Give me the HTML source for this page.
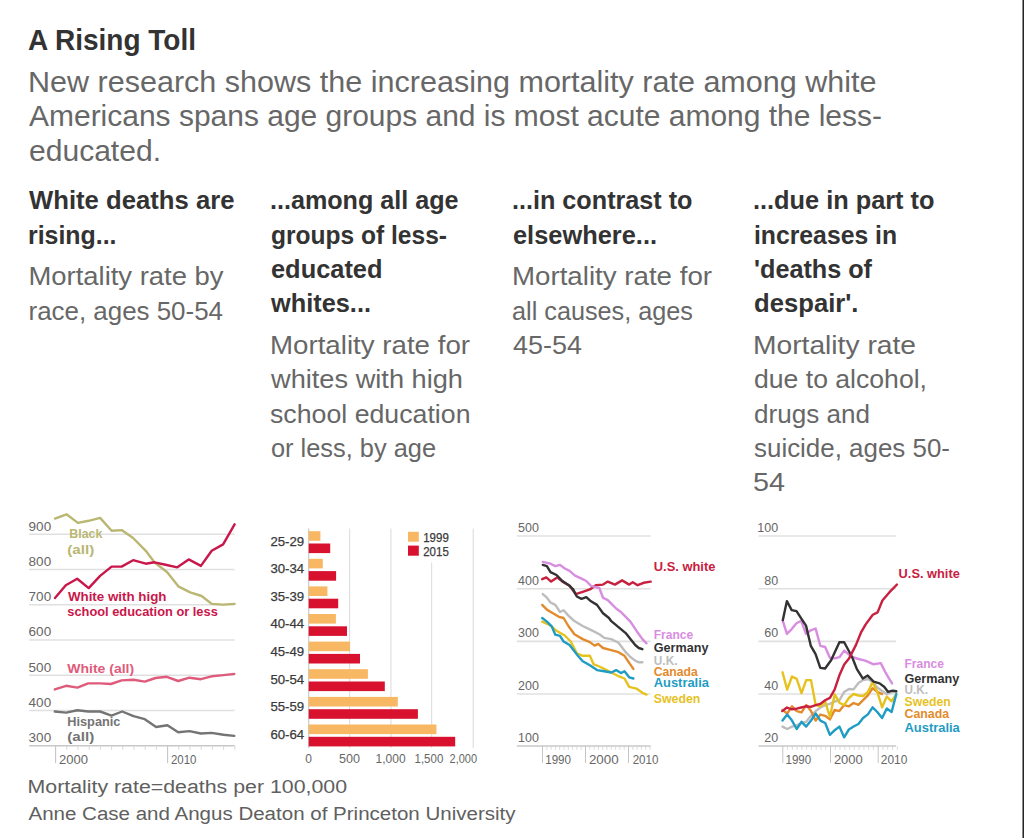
<!DOCTYPE html>
<html><head><meta charset="utf-8"><title>A Rising Toll</title>
<style>
html,body{margin:0;padding:0;background:#fff;width:1024px;height:838px;overflow:hidden}
svg{display:block;font-family:"Liberation Sans", sans-serif}
</style></head><body>
<svg width="1024" height="838" viewBox="0 0 1024 838">
<rect x="0" y="0" width="1024" height="838" fill="#fff"/>
<text x="28.0" y="49.8" font-size="29.3" fill="#333333" font-weight="bold" textLength="168.0" lengthAdjust="spacingAndGlyphs">A Rising Toll</text>
<text x="28.0" y="91.7" font-size="30" fill="#676767" textLength="848.5" lengthAdjust="spacingAndGlyphs">New research shows the increasing mortality rate among white</text>
<text x="29.0" y="126.0" font-size="30" fill="#676767" textLength="853.0" lengthAdjust="spacingAndGlyphs">Americans spans age groups and is most acute among the less-</text>
<text x="29.0" y="160.5" font-size="30" fill="#676767" textLength="132.0" lengthAdjust="spacingAndGlyphs">educated.</text>
<text x="29.0" y="209.2" font-size="26.5" fill="#333333" font-weight="bold" textLength="205.5" lengthAdjust="spacingAndGlyphs">White deaths are</text>
<text x="28.0" y="243.5" font-size="26.5" fill="#333333" font-weight="bold" textLength="88.5" lengthAdjust="spacingAndGlyphs">rising...</text>
<text x="28.5" y="285.3" font-size="26" fill="#676767" textLength="195.0" lengthAdjust="spacingAndGlyphs">Mortality rate by</text>
<text x="28.5" y="319.6" font-size="26" fill="#676767" textLength="194.5" lengthAdjust="spacingAndGlyphs">race, ages 50-54</text>
<text x="270.0" y="209.2" font-size="26.5" fill="#333333" font-weight="bold" textLength="188.5" lengthAdjust="spacingAndGlyphs">...among all age</text>
<text x="271.0" y="243.5" font-size="26.5" fill="#333333" font-weight="bold" textLength="176.0" lengthAdjust="spacingAndGlyphs">groups of less-</text>
<text x="271.0" y="277.8" font-size="26.5" fill="#333333" font-weight="bold" textLength="111.5" lengthAdjust="spacingAndGlyphs">educated</text>
<text x="271.0" y="312.1" font-size="26.5" fill="#333333" font-weight="bold" textLength="100.0" lengthAdjust="spacingAndGlyphs">whites...</text>
<text x="270.0" y="354.1" font-size="26" fill="#676767" textLength="200.0" lengthAdjust="spacingAndGlyphs">Mortality rate for</text>
<text x="271.0" y="388.4" font-size="26" fill="#676767" textLength="192.0" lengthAdjust="spacingAndGlyphs">whites with high</text>
<text x="270.0" y="422.7" font-size="26" fill="#676767" textLength="200.5" lengthAdjust="spacingAndGlyphs">school education</text>
<text x="271.0" y="457.0" font-size="26" fill="#676767" textLength="165.0" lengthAdjust="spacingAndGlyphs">or less, by age</text>
<text x="512.0" y="209.2" font-size="26.5" fill="#333333" font-weight="bold" textLength="180.5" lengthAdjust="spacingAndGlyphs">...in contrast to</text>
<text x="513.0" y="243.5" font-size="26.5" fill="#333333" font-weight="bold" textLength="144.0" lengthAdjust="spacingAndGlyphs">elsewhere...</text>
<text x="512.0" y="285.4" font-size="26" fill="#676767" textLength="200.0" lengthAdjust="spacingAndGlyphs">Mortality rate for</text>
<text x="512.0" y="319.7" font-size="26" fill="#676767" textLength="181.0" lengthAdjust="spacingAndGlyphs">all causes, ages</text>
<text x="513.0" y="354.0" font-size="26" fill="#676767" textLength="69.0" lengthAdjust="spacingAndGlyphs">45-54</text>
<text x="753.0" y="209.2" font-size="26.5" fill="#333333" font-weight="bold" textLength="181.5" lengthAdjust="spacingAndGlyphs">...due in part to</text>
<text x="754.0" y="243.5" font-size="26.5" fill="#333333" font-weight="bold" textLength="143.0" lengthAdjust="spacingAndGlyphs">increases in</text>
<text x="754.0" y="277.8" font-size="26.5" fill="#333333" font-weight="bold" textLength="118.0" lengthAdjust="spacingAndGlyphs">'deaths of</text>
<text x="754.0" y="312.1" font-size="26.5" fill="#333333" font-weight="bold" textLength="104.5" lengthAdjust="spacingAndGlyphs">despair'.</text>
<text x="753.0" y="354.1" font-size="26" fill="#676767" textLength="163.0" lengthAdjust="spacingAndGlyphs">Mortality rate</text>
<text x="754.0" y="388.4" font-size="26" fill="#676767" textLength="173.0" lengthAdjust="spacingAndGlyphs">due to alcohol,</text>
<text x="754.0" y="422.7" font-size="26" fill="#676767" textLength="116.0" lengthAdjust="spacingAndGlyphs">drugs and</text>
<text x="754.0" y="457.0" font-size="26" fill="#676767" textLength="196.0" lengthAdjust="spacingAndGlyphs">suicide, ages 50-</text>
<text x="753.0" y="491.3" font-size="26" fill="#676767" textLength="32.0" lengthAdjust="spacingAndGlyphs">54</text>
<text x="27.5" y="792.9" font-size="18" fill="#606060" textLength="319.5" lengthAdjust="spacingAndGlyphs">Mortality rate=deaths per 100,000</text>
<text x="28.5" y="820.1" font-size="18" fill="#606060" textLength="487.0" lengthAdjust="spacingAndGlyphs">Anne Case and Angus Deaton of Princeton University</text>
<line x1="29.2" y1="534.3" x2="234.5" y2="534.3" stroke="#e0e0e0" stroke-width="1.6"/>
<text x="28.6" y="530.7" font-size="13" fill="#666666" textLength="22.6" lengthAdjust="spacingAndGlyphs">900</text>
<line x1="29.2" y1="569.5" x2="234.5" y2="569.5" stroke="#e0e0e0" stroke-width="1.6"/>
<text x="28.6" y="565.9" font-size="13" fill="#666666" textLength="22.6" lengthAdjust="spacingAndGlyphs">800</text>
<line x1="29.2" y1="604.8" x2="234.5" y2="604.8" stroke="#e0e0e0" stroke-width="1.6"/>
<text x="28.6" y="601.2" font-size="13" fill="#666666" textLength="22.6" lengthAdjust="spacingAndGlyphs">700</text>
<line x1="29.2" y1="640.0" x2="234.5" y2="640.0" stroke="#e0e0e0" stroke-width="1.6"/>
<text x="28.6" y="636.4" font-size="13" fill="#666666" textLength="22.6" lengthAdjust="spacingAndGlyphs">600</text>
<line x1="29.2" y1="675.3" x2="234.5" y2="675.3" stroke="#e0e0e0" stroke-width="1.6"/>
<text x="28.6" y="671.7" font-size="13" fill="#666666" textLength="22.6" lengthAdjust="spacingAndGlyphs">500</text>
<line x1="29.2" y1="710.5" x2="234.5" y2="710.5" stroke="#e0e0e0" stroke-width="1.6"/>
<text x="28.6" y="706.9" font-size="13" fill="#666666" textLength="22.6" lengthAdjust="spacingAndGlyphs">400</text>
<text x="28.6" y="742.2" font-size="13" fill="#666666" textLength="22.6" lengthAdjust="spacingAndGlyphs">300</text>
<line x1="29.2" y1="745.8" x2="234.5" y2="745.8" stroke="#c8c8c8" stroke-width="1.6"/>
<line x1="55.6" y1="745.3" x2="55.6" y2="763" stroke="#c6c6c6" stroke-width="1.1"/>
<line x1="66.8" y1="745.3" x2="66.8" y2="749.8" stroke="#d2d2d2" stroke-width="0.9"/>
<line x1="78.0" y1="745.3" x2="78.0" y2="749.8" stroke="#d2d2d2" stroke-width="0.9"/>
<line x1="89.2" y1="745.3" x2="89.2" y2="749.8" stroke="#d2d2d2" stroke-width="0.9"/>
<line x1="100.4" y1="745.3" x2="100.4" y2="749.8" stroke="#d2d2d2" stroke-width="0.9"/>
<line x1="111.6" y1="745.3" x2="111.6" y2="749.8" stroke="#d2d2d2" stroke-width="0.9"/>
<line x1="122.8" y1="745.3" x2="122.8" y2="749.8" stroke="#d2d2d2" stroke-width="0.9"/>
<line x1="134.0" y1="745.3" x2="134.0" y2="749.8" stroke="#d2d2d2" stroke-width="0.9"/>
<line x1="145.2" y1="745.3" x2="145.2" y2="749.8" stroke="#d2d2d2" stroke-width="0.9"/>
<line x1="156.4" y1="745.3" x2="156.4" y2="749.8" stroke="#d2d2d2" stroke-width="0.9"/>
<line x1="167.6" y1="745.3" x2="167.6" y2="763" stroke="#c6c6c6" stroke-width="1.1"/>
<line x1="178.8" y1="745.3" x2="178.8" y2="749.8" stroke="#d2d2d2" stroke-width="0.9"/>
<line x1="190.0" y1="745.3" x2="190.0" y2="749.8" stroke="#d2d2d2" stroke-width="0.9"/>
<line x1="201.2" y1="745.3" x2="201.2" y2="749.8" stroke="#d2d2d2" stroke-width="0.9"/>
<line x1="212.4" y1="745.3" x2="212.4" y2="749.8" stroke="#d2d2d2" stroke-width="0.9"/>
<line x1="223.6" y1="745.3" x2="223.6" y2="749.8" stroke="#d2d2d2" stroke-width="0.9"/>
<line x1="234.8" y1="745.3" x2="234.8" y2="749.8" stroke="#d2d2d2" stroke-width="0.9"/>
<text x="59" y="763.6" font-size="12" fill="#666666" textLength="29" lengthAdjust="spacingAndGlyphs">2000</text>
<text x="171" y="763.6" font-size="12" fill="#666666" textLength="25.5" lengthAdjust="spacingAndGlyphs">2010</text>
<polyline points="55,518.6 66.5,514.3 77.9,522.9 88.7,520.8 100.1,517.9 111.6,530.8 121.6,530.1 133.1,538 145.8,550.8 154.4,562.3 167.2,572.3 178.7,586.7 190.2,592.4 201.6,596 211.7,603.9 223.1,604.6 234.6,603.9" fill="none" stroke="#b9b772" stroke-width="2.4" stroke-linejoin="round" stroke-linecap="round"/>
<polyline points="55,598.1 65.8,585.2 77.2,578.8 88.7,588.1 100.1,575.9 111.6,566.6 121.6,566.6 133.1,560.2 145.8,563.7 154.4,562.3 164.4,564.5 177.3,567.3 188.7,559.4 200.9,565.9 211.7,550.8 223.1,544.4 234.6,524.3" fill="none" stroke="#c9174b" stroke-width="2.4" stroke-linejoin="round" stroke-linecap="round"/>
<polyline points="54.8,689.4 66.1,685.8 77.4,687.6 88.2,683.4 100.1,683.4 110.9,684 121.6,680.4 133.5,679.8 144.8,681.6 155.5,678 166.8,676.8 178.2,681 189.5,677.7 200.9,679.2 211.6,676.3 223.5,675.1 234.3,673.9" fill="none" stroke="#df5b7b" stroke-width="2.4" stroke-linejoin="round" stroke-linecap="round"/>
<polyline points="54.8,711.5 66.1,712.6 77.4,710.3 88.2,711.5 100.1,711.5 111.5,715.6 122.2,711.5 133.5,716.2 144.8,719.2 156.1,727 167.4,725.2 178.2,732.3 189.5,731.1 200.9,733.5 211.6,732.9 223.5,734.7 234.3,735.9" fill="none" stroke="#747474" stroke-width="2.4" stroke-linejoin="round" stroke-linecap="round"/>
<text x="69.3" y="538" font-size="12.5" fill="#b9b772" font-weight="bold" textLength="33" lengthAdjust="spacingAndGlyphs">Black</text>
<text x="67.3" y="553.7" font-size="12.5" fill="#b9b772" font-weight="bold" textLength="27" lengthAdjust="spacingAndGlyphs">(all)</text>
<text x="67.9" y="601" font-size="12.5" fill="#c9174b" font-weight="bold" textLength="98.6" lengthAdjust="spacingAndGlyphs">White with high</text>
<text x="67.3" y="616" font-size="12.5" fill="#c9174b" font-weight="bold" textLength="150.5" lengthAdjust="spacingAndGlyphs">school education or less</text>
<text x="67.3" y="672.7" font-size="12.5" fill="#df5b7b" font-weight="bold" textLength="66.8" lengthAdjust="spacingAndGlyphs">White (all)</text>
<text x="67.3" y="725.8" font-size="12.5" fill="#747474" font-weight="bold" textLength="53.1" lengthAdjust="spacingAndGlyphs">Hispanic</text>
<text x="67.3" y="741.3" font-size="12.5" fill="#747474" font-weight="bold" textLength="27" lengthAdjust="spacingAndGlyphs">(all)</text>
<line x1="349.6" y1="528.5" x2="349.6" y2="748" stroke="#e0e0e0" stroke-width="1.2"/>
<line x1="390.9" y1="528.5" x2="390.9" y2="748" stroke="#e0e0e0" stroke-width="1.2"/>
<line x1="431.6" y1="562.7" x2="431.6" y2="748" stroke="#e0e0e0" stroke-width="1.2"/>
<line x1="473.2" y1="528.5" x2="473.2" y2="748" stroke="#e0e0e0" stroke-width="1.2"/>
<line x1="308.7" y1="528.5" x2="308.7" y2="748" stroke="#c8c8c8" stroke-width="1.2"/>
<rect x="308.7" y="531.2" width="11.7" height="9.6" fill="#f8b763"/>
<rect x="308.7" y="543.5" width="21.5" height="9.6" fill="#d8112f"/>
<text x="304.2" y="545.6" font-size="13" fill="#3a3a3a" textLength="33.8" lengthAdjust="spacingAndGlyphs" text-anchor="end" stroke="#3a3a3a" stroke-width="0.25">25-29</text>
<rect x="308.7" y="558.8" width="14.1" height="9.6" fill="#f8b763"/>
<rect x="308.7" y="571.1" width="27.4" height="9.6" fill="#d8112f"/>
<text x="304.2" y="573.2" font-size="13" fill="#3a3a3a" textLength="33.8" lengthAdjust="spacingAndGlyphs" text-anchor="end" stroke="#3a3a3a" stroke-width="0.25">30-34</text>
<rect x="308.7" y="586.4" width="18.7" height="9.6" fill="#f8b763"/>
<rect x="308.7" y="598.7" width="29.5" height="9.6" fill="#d8112f"/>
<text x="304.2" y="600.8" font-size="13" fill="#3a3a3a" textLength="33.8" lengthAdjust="spacingAndGlyphs" text-anchor="end" stroke="#3a3a3a" stroke-width="0.25">35-39</text>
<rect x="308.7" y="614.0" width="27.2" height="9.6" fill="#f8b763"/>
<rect x="308.7" y="626.3" width="38.3" height="9.6" fill="#d8112f"/>
<text x="304.2" y="628.4" font-size="13" fill="#3a3a3a" textLength="33.8" lengthAdjust="spacingAndGlyphs" text-anchor="end" stroke="#3a3a3a" stroke-width="0.25">40-44</text>
<rect x="308.7" y="641.6" width="41.3" height="9.6" fill="#f8b763"/>
<rect x="308.7" y="653.9" width="51.3" height="9.6" fill="#d8112f"/>
<text x="304.2" y="656.0" font-size="13" fill="#3a3a3a" textLength="33.8" lengthAdjust="spacingAndGlyphs" text-anchor="end" stroke="#3a3a3a" stroke-width="0.25">45-49</text>
<rect x="308.7" y="669.2" width="59.2" height="9.6" fill="#f8b763"/>
<rect x="308.7" y="681.5" width="76.1" height="9.6" fill="#d8112f"/>
<text x="304.2" y="683.6" font-size="13" fill="#3a3a3a" textLength="33.8" lengthAdjust="spacingAndGlyphs" text-anchor="end" stroke="#3a3a3a" stroke-width="0.25">50-54</text>
<rect x="308.7" y="696.9" width="89.1" height="9.6" fill="#f8b763"/>
<rect x="308.7" y="709.2" width="109.2" height="9.6" fill="#d8112f"/>
<text x="304.2" y="711.3" font-size="13" fill="#3a3a3a" textLength="33.8" lengthAdjust="spacingAndGlyphs" text-anchor="end" stroke="#3a3a3a" stroke-width="0.25">55-59</text>
<rect x="308.7" y="724.5" width="127.7" height="9.6" fill="#f8b763"/>
<rect x="308.7" y="736.8" width="146.5" height="9.6" fill="#d8112f"/>
<text x="304.2" y="738.9" font-size="13" fill="#3a3a3a" textLength="33.8" lengthAdjust="spacingAndGlyphs" text-anchor="end" stroke="#3a3a3a" stroke-width="0.25">60-64</text>
<rect x="408" y="531.8" width="10.8" height="9.9" fill="#f8b763"/>
<rect x="408" y="545.6" width="10.8" height="10.1" fill="#d8112f"/>
<text x="423.2" y="541.7" font-size="12.5" fill="#3a3a3a" textLength="25.6" lengthAdjust="spacingAndGlyphs" stroke="#3a3a3a" stroke-width="0.25">1999</text>
<text x="423.2" y="555.7" font-size="12.5" fill="#3a3a3a" textLength="25.6" lengthAdjust="spacingAndGlyphs" stroke="#3a3a3a" stroke-width="0.25">2015</text>
<text x="308.6" y="763.4" font-size="12" fill="#666666" text-anchor="middle">0</text>
<text x="349.4" y="763.4" font-size="12" fill="#666666" textLength="21" lengthAdjust="spacingAndGlyphs" text-anchor="middle">500</text>
<text x="375.6" y="763.4" font-size="12" fill="#666666" textLength="30.1" lengthAdjust="spacingAndGlyphs">1,000</text>
<text x="414.5" y="763.4" font-size="12" fill="#666666" textLength="28.8" lengthAdjust="spacingAndGlyphs">1,500</text>
<text x="449.6" y="763.4" font-size="12" fill="#666666" textLength="27.5" lengthAdjust="spacingAndGlyphs">2,000</text>
<line x1="516.8" y1="536.0" x2="650.5" y2="536.0" stroke="#e0e0e0" stroke-width="1.6"/>
<text x="538.9" y="531.9" font-size="12.5" fill="#666666" text-anchor="end">500</text>
<line x1="516.8" y1="588.7" x2="650.5" y2="588.7" stroke="#e0e0e0" stroke-width="1.6"/>
<text x="538.9" y="584.6" font-size="12.5" fill="#666666" text-anchor="end">400</text>
<line x1="516.8" y1="641.4" x2="650.5" y2="641.4" stroke="#e0e0e0" stroke-width="1.6"/>
<text x="538.9" y="637.3" font-size="12.5" fill="#666666" text-anchor="end">300</text>
<line x1="516.8" y1="694.0" x2="650.5" y2="694.0" stroke="#e0e0e0" stroke-width="1.6"/>
<text x="538.9" y="689.9" font-size="12.5" fill="#666666" text-anchor="end">200</text>
<line x1="516.8" y1="746.0" x2="650.5" y2="746.0" stroke="#c8c8c8" stroke-width="1.6"/>
<text x="538.9" y="741.9" font-size="12.5" fill="#666666" text-anchor="end">100</text>
<line x1="542.5" y1="746.0" x2="542.5" y2="763" stroke="#c6c6c6" stroke-width="1.0"/>
<line x1="546.8" y1="746.0" x2="546.8" y2="749.8" stroke="#d2d2d2" stroke-width="0.8"/>
<line x1="551.1" y1="746.0" x2="551.1" y2="749.8" stroke="#d2d2d2" stroke-width="0.8"/>
<line x1="555.4" y1="746.0" x2="555.4" y2="749.8" stroke="#d2d2d2" stroke-width="0.8"/>
<line x1="559.7" y1="746.0" x2="559.7" y2="749.8" stroke="#d2d2d2" stroke-width="0.8"/>
<line x1="564.0" y1="746.0" x2="564.0" y2="749.8" stroke="#d2d2d2" stroke-width="0.8"/>
<line x1="568.3" y1="746.0" x2="568.3" y2="749.8" stroke="#d2d2d2" stroke-width="0.8"/>
<line x1="572.6" y1="746.0" x2="572.6" y2="749.8" stroke="#d2d2d2" stroke-width="0.8"/>
<line x1="576.9" y1="746.0" x2="576.9" y2="749.8" stroke="#d2d2d2" stroke-width="0.8"/>
<line x1="581.2" y1="746.0" x2="581.2" y2="749.8" stroke="#d2d2d2" stroke-width="0.8"/>
<line x1="585.5" y1="746.0" x2="585.5" y2="763" stroke="#c6c6c6" stroke-width="1.0"/>
<line x1="589.8" y1="746.0" x2="589.8" y2="749.8" stroke="#d2d2d2" stroke-width="0.8"/>
<line x1="594.1" y1="746.0" x2="594.1" y2="749.8" stroke="#d2d2d2" stroke-width="0.8"/>
<line x1="598.4" y1="746.0" x2="598.4" y2="749.8" stroke="#d2d2d2" stroke-width="0.8"/>
<line x1="602.7" y1="746.0" x2="602.7" y2="749.8" stroke="#d2d2d2" stroke-width="0.8"/>
<line x1="607.0" y1="746.0" x2="607.0" y2="749.8" stroke="#d2d2d2" stroke-width="0.8"/>
<line x1="611.3" y1="746.0" x2="611.3" y2="749.8" stroke="#d2d2d2" stroke-width="0.8"/>
<line x1="615.6" y1="746.0" x2="615.6" y2="749.8" stroke="#d2d2d2" stroke-width="0.8"/>
<line x1="619.9" y1="746.0" x2="619.9" y2="749.8" stroke="#d2d2d2" stroke-width="0.8"/>
<line x1="624.2" y1="746.0" x2="624.2" y2="749.8" stroke="#d2d2d2" stroke-width="0.8"/>
<line x1="628.5" y1="746.0" x2="628.5" y2="763" stroke="#c6c6c6" stroke-width="1.0"/>
<line x1="632.8" y1="746.0" x2="632.8" y2="749.8" stroke="#d2d2d2" stroke-width="0.8"/>
<line x1="637.1" y1="746.0" x2="637.1" y2="749.8" stroke="#d2d2d2" stroke-width="0.8"/>
<line x1="641.4" y1="746.0" x2="641.4" y2="749.8" stroke="#d2d2d2" stroke-width="0.8"/>
<line x1="645.7" y1="746.0" x2="645.7" y2="749.8" stroke="#d2d2d2" stroke-width="0.8"/>
<line x1="650.0" y1="746.0" x2="650.0" y2="749.8" stroke="#d2d2d2" stroke-width="0.8"/>
<text x="545.2" y="763.6" font-size="12" fill="#666666" textLength="25.8" lengthAdjust="spacingAndGlyphs">1990</text>
<text x="588.9" y="763.6" font-size="12" fill="#666666" textLength="29.7" lengthAdjust="spacingAndGlyphs">2000</text>
<text x="632.7" y="763.6" font-size="12" fill="#666666" textLength="25.7" lengthAdjust="spacingAndGlyphs">2010</text>
<polyline points="542.2,579.2 546.3,577.4 551.1,581.6 557.1,577.4 562.4,581.6 569.6,585.8 575.6,594.1 582.7,591.8 589.9,589.4 595.8,585.2 603,584.6 607.8,581.6 614.9,584.6 622.1,580.4 629.2,584.6 632.8,582.2 637.6,585.2 643.6,582.8 650.7,581.6" fill="none" stroke="#c8203f" stroke-width="2.4" stroke-linejoin="round" stroke-linecap="round"/>
<polyline points="542.8,594.1 546.9,597.7 550.5,602.5 555.3,604.9 560,612 563.6,610.2 568.4,615.6 573.2,620.2 582.7,626 592.3,630.7 599.4,634.3 604.2,637.9 611.3,639.1 618.5,642.7 622.1,647.4 625.7,652.2 630.4,657 635.2,660.6 638.8,662.3 642.4,662.3" fill="none" stroke="#bdbdbd" stroke-width="2.4" stroke-linejoin="round" stroke-linecap="round"/>
<polyline points="542.2,604.9 546.9,609.6 552.9,613.2 558.9,616.8 563.6,618 568.4,626 574.4,634.3 582.7,639.1 589.9,642.1 594.6,645.6 598.2,643.9 603,648 610.2,649.8 618.5,652.2 624.5,655.8 629.2,662.9 633.4,668.9" fill="none" stroke="#e38b2c" stroke-width="2.4" stroke-linejoin="round" stroke-linecap="round"/>
<polyline points="542.2,621.7 549.3,624.8 556.5,630.7 564.8,635.5 570.8,641.5 576.8,653.4 582.7,655.8 589.9,655.8 593.5,664.1 599.4,666.5 606.6,670.1 613.7,673.7 619.7,676.7 624.5,678.5 629.2,686.8 636.4,688.6 642.4,692.8 646.5,694.6" fill="none" stroke="#e6c21f" stroke-width="2.4" stroke-linejoin="round" stroke-linecap="round"/>
<polyline points="542.2,618 546.9,621.6 551.7,626.3 555.3,634.7 560,635.9 563.6,641.5 569.6,645 577.9,655.8 582.7,661.2 589.9,665.3 597,670.1 604.2,671.3 611.3,672.5 616.1,670.1 620.9,673.1 624.5,671.3 629.2,677.3 633.4,678.5" fill="none" stroke="#1f9cc4" stroke-width="2.4" stroke-linejoin="round" stroke-linecap="round"/>
<polyline points="542.8,561.9 550.5,563.7 555.3,566.1 560,564.9 564.8,568.5 569.6,570.9 575,575.6 581.5,578.6 586.3,581 591,585.8 599.4,588.2 603,597.7 607.8,600.1 611.3,603.7 616.1,608.5 620.9,612 625.7,616.8 630.4,621.6 636.4,630.7 642.4,639.1 646.5,643.3" fill="none" stroke="#d88de0" stroke-width="2.4" stroke-linejoin="round" stroke-linecap="round"/>
<polyline points="542.8,564.9 546.9,566.1 550.5,572.1 556.5,575 562.4,581 569.6,585.8 573.2,589.4 576.8,596.5 581.5,598.9 586.3,597.1 591,601.3 597,604.9 603,613.2 609,618 611.3,621.2 618.5,627.2 625.7,633.1 630.4,639.1 635.2,645 638.8,648 642.4,649.2" fill="none" stroke="#333333" stroke-width="2.4" stroke-linejoin="round" stroke-linecap="round"/>
<text x="653.8" y="570.7" font-size="12.5" fill="#c8203f" font-weight="bold" textLength="61.6" lengthAdjust="spacingAndGlyphs">U.S. white</text>
<text x="653.8" y="638.6" font-size="12.5" fill="#d88de0" font-weight="bold" textLength="39.3" lengthAdjust="spacingAndGlyphs">France</text>
<text x="653.8" y="652.4" font-size="12.5" fill="#333333" font-weight="bold" textLength="54.7" lengthAdjust="spacingAndGlyphs">Germany</text>
<text x="653.8" y="664.5" font-size="12.5" fill="#bdbdbd" font-weight="bold" textLength="23.7" lengthAdjust="spacingAndGlyphs">U.K.</text>
<text x="653.8" y="675.7" font-size="12.5" fill="#e38b2c" font-weight="bold" textLength="44" lengthAdjust="spacingAndGlyphs">Canada</text>
<text x="653.8" y="686.8" font-size="12.5" fill="#1f9cc4" font-weight="bold" textLength="55.1" lengthAdjust="spacingAndGlyphs">Australia</text>
<text x="653.8" y="703.0" font-size="12.5" fill="#e6c21f" font-weight="bold" textLength="46.6" lengthAdjust="spacingAndGlyphs">Sweden</text>
<line x1="758.5" y1="536.0" x2="896" y2="536.0" stroke="#e0e0e0" stroke-width="1.6"/>
<text x="778.2" y="531.9" font-size="12.5" fill="#666666" text-anchor="end">100</text>
<line x1="758.5" y1="588.7" x2="896" y2="588.7" stroke="#e0e0e0" stroke-width="1.6"/>
<text x="778.2" y="584.6" font-size="12.5" fill="#666666" text-anchor="end">80</text>
<line x1="758.5" y1="641.4" x2="896" y2="641.4" stroke="#e0e0e0" stroke-width="1.6"/>
<text x="778.2" y="637.3" font-size="12.5" fill="#666666" text-anchor="end">60</text>
<line x1="758.5" y1="694.0" x2="896" y2="694.0" stroke="#e0e0e0" stroke-width="1.6"/>
<text x="778.2" y="689.9" font-size="12.5" fill="#666666" text-anchor="end">40</text>
<line x1="758.5" y1="746.0" x2="896" y2="746.0" stroke="#c8c8c8" stroke-width="1.6"/>
<text x="778.2" y="741.9" font-size="12.5" fill="#666666" text-anchor="end">20</text>
<line x1="782.8" y1="746.0" x2="782.8" y2="763" stroke="#c6c6c6" stroke-width="1.0"/>
<line x1="787.6" y1="746.0" x2="787.6" y2="749.8" stroke="#d2d2d2" stroke-width="0.8"/>
<line x1="792.3" y1="746.0" x2="792.3" y2="749.8" stroke="#d2d2d2" stroke-width="0.8"/>
<line x1="797.1" y1="746.0" x2="797.1" y2="749.8" stroke="#d2d2d2" stroke-width="0.8"/>
<line x1="801.9" y1="746.0" x2="801.9" y2="749.8" stroke="#d2d2d2" stroke-width="0.8"/>
<line x1="806.6" y1="746.0" x2="806.6" y2="749.8" stroke="#d2d2d2" stroke-width="0.8"/>
<line x1="811.4" y1="746.0" x2="811.4" y2="749.8" stroke="#d2d2d2" stroke-width="0.8"/>
<line x1="816.2" y1="746.0" x2="816.2" y2="749.8" stroke="#d2d2d2" stroke-width="0.8"/>
<line x1="821.0" y1="746.0" x2="821.0" y2="749.8" stroke="#d2d2d2" stroke-width="0.8"/>
<line x1="825.7" y1="746.0" x2="825.7" y2="749.8" stroke="#d2d2d2" stroke-width="0.8"/>
<line x1="830.5" y1="746.0" x2="830.5" y2="763" stroke="#c6c6c6" stroke-width="1.0"/>
<line x1="835.3" y1="746.0" x2="835.3" y2="749.8" stroke="#d2d2d2" stroke-width="0.8"/>
<line x1="840.0" y1="746.0" x2="840.0" y2="749.8" stroke="#d2d2d2" stroke-width="0.8"/>
<line x1="844.8" y1="746.0" x2="844.8" y2="749.8" stroke="#d2d2d2" stroke-width="0.8"/>
<line x1="849.6" y1="746.0" x2="849.6" y2="749.8" stroke="#d2d2d2" stroke-width="0.8"/>
<line x1="854.3" y1="746.0" x2="854.3" y2="749.8" stroke="#d2d2d2" stroke-width="0.8"/>
<line x1="859.1" y1="746.0" x2="859.1" y2="749.8" stroke="#d2d2d2" stroke-width="0.8"/>
<line x1="863.9" y1="746.0" x2="863.9" y2="749.8" stroke="#d2d2d2" stroke-width="0.8"/>
<line x1="868.7" y1="746.0" x2="868.7" y2="749.8" stroke="#d2d2d2" stroke-width="0.8"/>
<line x1="873.4" y1="746.0" x2="873.4" y2="749.8" stroke="#d2d2d2" stroke-width="0.8"/>
<line x1="878.2" y1="746.0" x2="878.2" y2="763" stroke="#c6c6c6" stroke-width="1.0"/>
<line x1="883.0" y1="746.0" x2="883.0" y2="749.8" stroke="#d2d2d2" stroke-width="0.8"/>
<line x1="887.7" y1="746.0" x2="887.7" y2="749.8" stroke="#d2d2d2" stroke-width="0.8"/>
<line x1="892.5" y1="746.0" x2="892.5" y2="749.8" stroke="#d2d2d2" stroke-width="0.8"/>
<line x1="897.3" y1="746.0" x2="897.3" y2="749.8" stroke="#d2d2d2" stroke-width="0.8"/>
<text x="785.5" y="763.6" font-size="12" fill="#666666" textLength="25.75" lengthAdjust="spacingAndGlyphs">1990</text>
<text x="833.9" y="763.6" font-size="12" fill="#666666" textLength="28.9" lengthAdjust="spacingAndGlyphs">2000</text>
<text x="880.8" y="763.6" font-size="12" fill="#666666" textLength="26.5" lengthAdjust="spacingAndGlyphs">2010</text>
<polyline points="782.5,726.6 787.2,729 792.0,726.6 796.7,725.4 801.5,723 806.2,721.8 811.0,715.8 815.7,711.1 820.4,707.5 825.2,705.1 829.9,703.9 834.7,701.5 839.4,700.3 844.1,692 848.9,689 853.6,689.4 858.4,683 863.1,680 867.9,679 872.6,682 877.3,687.5 882.1,691 886.8,694.1 891.6,692 896.3,691.8" fill="none" stroke="#bdbdbd" stroke-width="2.4" stroke-linejoin="round" stroke-linecap="round"/>
<polyline points="782.5,709.9 787.2,713.5 792.0,706.3 796.7,711.1 801.5,712.3 806.2,705.1 811.0,711.1 815.7,720.6 820.4,714.6 825.2,715.8 829.9,719.4 834.7,709.9 839.4,711.1 844.1,705.1 848.9,706.3 853.6,703 858.4,704.9 863.1,700.1 867.9,695.3 872.6,688.2 877.3,691.8 882.1,694.1" fill="none" stroke="#e38b2c" stroke-width="2.4" stroke-linejoin="round" stroke-linecap="round"/>
<polyline points="782.5,672.3 787.2,689.6 792.0,676.5 796.7,678.9 801.5,693.2 806.2,680.1 811.0,680.1 815.7,705.1 820.4,706.3 825.2,701.5 829.9,717 834.7,694.4 839.4,702.7 844.1,705.1 848.9,698 853.6,694 858.4,695.5 863.1,696 867.9,692 872.6,682.2 877.3,691.8 882.1,707.3 886.8,696.5 891.6,701.3 896.3,694.1" fill="none" stroke="#e6c21f" stroke-width="2.4" stroke-linejoin="round" stroke-linecap="round"/>
<polyline points="782.5,720.6 787.2,714.6 792.0,720.6 796.7,729 801.5,721.8 806.2,726.6 811.0,720.6 815.7,713.5 820.4,720.6 825.2,723 829.9,734.9 834.7,730.2 839.4,726.6 844.1,737.3 848.9,729.5 853.6,726.5 858.4,724 863.1,718 867.9,714.4 872.6,707.3 877.3,712 882.1,718 886.8,708.5 891.6,712 896.3,694.1" fill="none" stroke="#1f9cc4" stroke-width="2.4" stroke-linejoin="round" stroke-linecap="round"/>
<polyline points="782.8,620.8 786.9,633.9 791.7,629.1 796.5,623.2 801.2,620.8 806,633.9 810.8,630.3 815.6,628.5 820.3,645.8 825.1,647 829.9,657.8 834.6,658.4 839.4,657.2 844.2,650.6 851.3,656.6 858.5,659 865.3,660.7 873.6,664.3 880.8,663.1 885.6,672.7 889.1,678.6 892.1,683.4" fill="none" stroke="#d88de0" stroke-width="2.4" stroke-linejoin="round" stroke-linecap="round"/>
<polyline points="782.8,620.2 786.9,601.1 791.7,610.1 796.5,611.2 801.2,618.4 806,625.6 810.8,645.8 815.6,654.2 820.3,667.9 825.1,668.5 831.1,660.2 839.4,642.3 844.2,642.3 852.2,657.2 856.9,669.1 862.9,678.6 867.7,675.6 873.6,681.6 879.6,683.4 884.4,687 887.9,691.8 892.7,690.6 896.3,691.2" fill="none" stroke="#333333" stroke-width="2.4" stroke-linejoin="round" stroke-linecap="round"/>
<polyline points="782.2,711.1 786.9,707.5 791.7,709.3 796.5,708.7 801.2,707.5 806,706.3 810.8,706.9 815.6,705.1 820.3,703.9 825.1,700.3 829.9,697.9 834.6,689.6 839.4,675.3 844.2,664.5 849,658.6 856.1,644.6 860.9,632.7 865.7,624.4 872.8,614.8 877.6,612.4 882.4,600.5 889.5,592.2 897,584.5" fill="none" stroke="#c8203f" stroke-width="2.4" stroke-linejoin="round" stroke-linecap="round"/>
<text x="898.6" y="577.7" font-size="12.5" fill="#c8203f" font-weight="bold" textLength="61.2" lengthAdjust="spacingAndGlyphs">U.S. white</text>
<text x="904.5" y="668.4" font-size="12.5" fill="#d88de0" font-weight="bold" textLength="39.4" lengthAdjust="spacingAndGlyphs">France</text>
<text x="904.5" y="683.1" font-size="12.5" fill="#333333" font-weight="bold" textLength="54.8" lengthAdjust="spacingAndGlyphs">Germany</text>
<text x="904.5" y="694.4" font-size="12.5" fill="#bdbdbd" font-weight="bold" textLength="23.5" lengthAdjust="spacingAndGlyphs">U.K.</text>
<text x="904.5" y="705.8" font-size="12.5" fill="#e6c21f" font-weight="bold" textLength="46.2" lengthAdjust="spacingAndGlyphs">Sweden</text>
<text x="904.5" y="718.2" font-size="12.5" fill="#e38b2c" font-weight="bold" textLength="44.6" lengthAdjust="spacingAndGlyphs">Canada</text>
<text x="904.5" y="731.8" font-size="12.5" fill="#1f9cc4" font-weight="bold" textLength="55.3" lengthAdjust="spacingAndGlyphs">Australia</text>
<rect x="1022" y="0" width="1" height="838" fill="#8a8a8a"/>
<rect x="1023" y="0" width="1" height="838" fill="#262626"/>
</svg>
</body></html>
